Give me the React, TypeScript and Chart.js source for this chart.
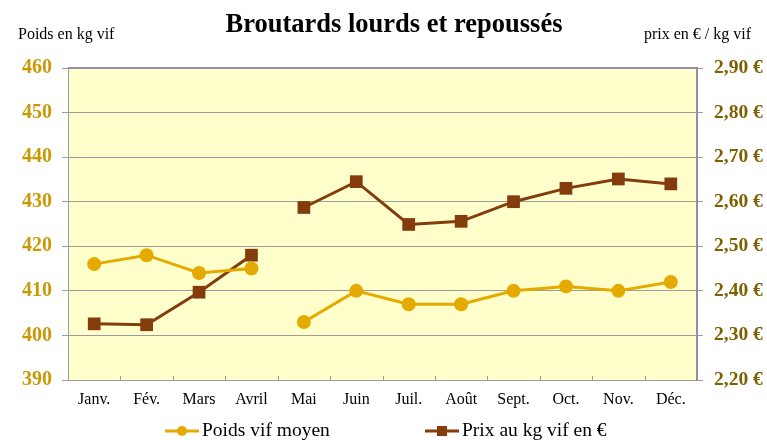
import { useEffect, useRef } from 'react';
import { Chart, registerables } from 'chart.js';

Chart.register(...registerables);

const months = ['Janv.', 'Fév.', 'Mars', 'Avril', 'Mai', 'Juin', 'Juil.', 'Août', 'Sept.', 'Oct.', 'Nov.', 'Déc.'];
const poidsVif = [416, 418, 414, 415, 403, 410, 407, 407, 410, 411, 410, 412];
const prixKg = [2.326, 2.324, 2.397, 2.48, 2.587, 2.645, 2.549, 2.556, 2.6, 2.63, 2.651, 2.64];
const breakAfterIndex = 3; // line is interrupted between Avril and Mai
const poidsAxis = { min: 390, max: 460, step: 10 };
const prixAxis = { min: 2.2, max: 2.9, step: 0.1 };

const titleText = 'Broutards lourds et repoussés';
const leftAxisTitle = 'Poids en kg vif';
const rightAxisTitle = 'prix en € / kg vif';
const legendPoids = 'Poids vif moyen';
const legendPrix = 'Prix au kg vif en €';

const SERIF = "'Liberation Serif', 'Times New Roman', serif";
const GOLD = '#E4AA00';
const BROWN = '#843C0C';
const GRID = '#9C9C9C';
const FRAME = '#958CA6';

const decorPlugin = {
  id: 'decor',
  beforeDraw(chart: any) {
    const { ctx, chartArea } = chart;
    ctx.save();
    ctx.fillStyle = '#FFFFFF';
    ctx.fillRect(0, 0, chart.width, chart.height);
    ctx.fillStyle = '#FFFFCC';
    ctx.fillRect(chartArea.left, chartArea.top, chartArea.right - chartArea.left, chartArea.bottom - chartArea.top);
    ctx.restore();
  },
  afterDatasetsDraw(chart: any) {
    const { ctx, chartArea } = chart;
    const x = chart.scales.x;
    ctx.save();
    // frame top and right
    ctx.strokeStyle = FRAME;
    ctx.lineWidth = 2;
    ctx.beginPath();
    ctx.moveTo(chartArea.left, chartArea.top);
    ctx.lineTo(chartArea.right, chartArea.top);
    ctx.lineTo(chartArea.right, chartArea.bottom);
    ctx.stroke();
    // inner x ticks at category boundaries
    ctx.strokeStyle = GRID;
    ctx.lineWidth = 1;
    for (let i = 1; i < months.length; i++) {
      const px = Math.round((x.getPixelForValue(i - 1) + x.getPixelForValue(i)) / 2) + 0.5;
      ctx.beginPath();
      ctx.moveTo(px, chartArea.bottom - 4);
      ctx.lineTo(px, chartArea.bottom + 1);
      ctx.stroke();
    }
    ctx.restore();
  },
  afterDraw(chart: any) {
    const { ctx } = chart;
    ctx.save();
    ctx.fillStyle = '#000000';
    ctx.textBaseline = 'alphabetic';
    ctx.font = `bold 26.5px ${SERIF}`;
    ctx.textAlign = 'center';
    ctx.fillText(titleText, 394, 32);
    ctx.font = `16px ${SERIF}`;
    ctx.textAlign = 'left';
    ctx.fillText(leftAxisTitle, 18, 39);
    ctx.textAlign = 'right';
    ctx.fillText(rightAxisTitle, 751, 39);

    // legend
    const ly = 431;
    ctx.lineWidth = 3;
    ctx.strokeStyle = GOLD;
    ctx.beginPath();
    ctx.moveTo(165, ly);
    ctx.lineTo(199, ly);
    ctx.stroke();
    ctx.fillStyle = GOLD;
    ctx.beginPath();
    ctx.arc(182, ly, 5, 0, Math.PI * 2);
    ctx.fill();
    ctx.strokeStyle = BROWN;
    ctx.beginPath();
    ctx.moveTo(425, ly);
    ctx.lineTo(459, ly);
    ctx.stroke();
    ctx.fillStyle = BROWN;
    ctx.fillRect(437, ly - 5, 10, 10);

    ctx.fillStyle = '#000000';
    ctx.font = `19.5px ${SERIF}`;
    ctx.textAlign = 'left';
    ctx.fillText(legendPoids, 202, 436);
    ctx.fillText(legendPrix, 462, 436);
    ctx.restore();
  },
};

export default function App() {
  const canvasRef = useRef<HTMLCanvasElement | null>(null);

  useEffect(() => {
    const canvas = canvasRef.current;
    if (!canvas) return;
    const segColor = (color: string) => (ctx: any) =>
      ctx.p0DataIndex === breakAfterIndex ? 'rgba(0,0,0,0)' : color;

    const chart = new Chart(canvas, {
      type: 'line',
      data: {
        labels: months,
        datasets: [
          {
            label: legendPoids,
            data: poidsVif,
            yAxisID: 'y',
            borderColor: GOLD,
            backgroundColor: GOLD,
            borderWidth: 3,
            pointStyle: 'circle',
            pointRadius: 7,
            pointHoverRadius: 7,
            pointBorderWidth: 0,
            pointBackgroundColor: GOLD,
            tension: 0,
            segment: { borderColor: segColor(GOLD) },
          },
          {
            label: legendPrix,
            data: prixKg,
            yAxisID: 'y1',
            borderColor: BROWN,
            backgroundColor: BROWN,
            borderWidth: 3,
            pointStyle: 'rect',
            pointRadius: 9,
            pointHoverRadius: 9,
            pointBorderWidth: 0,
            pointBackgroundColor: BROWN,
            tension: 0,
            segment: { borderColor: segColor(BROWN) },
          },
        ],
      },
      options: {
        responsive: false,
        animation: false,
        layout: { padding: { top: 68, left: 0, right: 0, bottom: 0 } },
        plugins: {
          legend: { display: false },
          title: { display: false },
          tooltip: { enabled: false },
        },
        scales: {
          x: {
            type: 'category',
            offset: true,
            grid: { display: true, offset: true, drawOnChartArea: false, drawTicks: false, color: GRID },
            border: { display: true, color: GRID, width: 1 },
            ticks: {
              color: '#000000',
              font: { family: SERIF, size: 16 },
              padding: 10,
              maxRotation: 0,
              autoSkip: false,
            },
            afterFit: (s: any) => {
              s.height = 60;
            },
          },
          y: {
            position: 'left',
            min: poidsAxis.min,
            max: poidsAxis.max,
            ticks: {
              stepSize: poidsAxis.step,
              color: '#C99A06',
              font: { family: SERIF, size: 20, weight: 'bold' },
              padding: 10,
            },
            grid: { color: GRID, tickLength: 6, lineWidth: 1 },
            border: { display: true, color: GRID, width: 1 },
            afterFit: (s: any) => {
              s.width = 68;
            },
          },
          y1: {
            position: 'right',
            min: prixAxis.min,
            max: prixAxis.max,
            ticks: {
              stepSize: prixAxis.step,
              color: '#7F6000',
              font: { family: SERIF, size: 19.5, weight: 'bold' },
              padding: 11,
              callback: (v: any) => Number(v).toFixed(2).replace('.', ',') + ' €',
            },
            grid: { color: GRID, tickLength: 6, drawOnChartArea: false },
            border: { display: true, color: FRAME, width: 2 },
            afterFit: (s: any) => {
              s.width = 70;
            },
          },
        },
      },
      plugins: [decorPlugin],
    });
    return () => chart.destroy();
  }, []);

  return (
    <div style={{ position: 'absolute', left: 0, top: 0, width: 767, height: 440, background: '#fff' }}>
      <canvas ref={canvasRef} width={767} height={440} />
    </div>
  );
}
